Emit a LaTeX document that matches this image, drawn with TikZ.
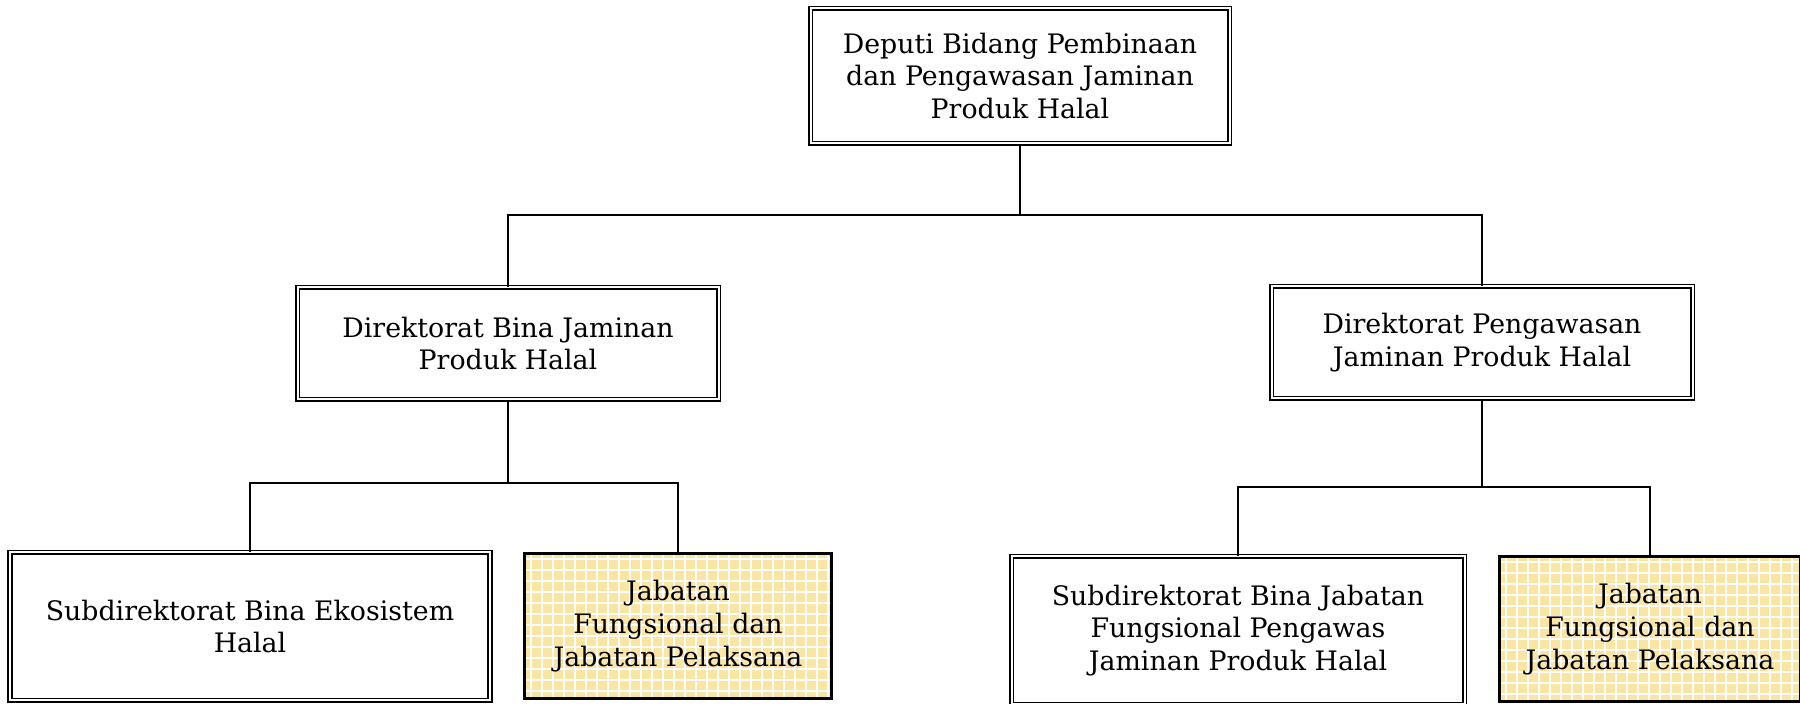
\documentclass[tikz,border=0pt]{standalone}
\usepackage{fontspec}
\setmainfont{DejaVu Serif}
\definecolor{gridfill}{RGB}{251,229,163}
\tikzset{
  unitbox/.style={draw, double, line width=0.8pt, double distance=1pt,
    align=center, inner sep=0pt, text=black,
    font=\fontsize{13.4}{16.4}\selectfont},
  jfbox/.style={draw, line width=1.5pt, align=center, inner sep=0pt,
    font=\fontsize{13.4}{16.4}\selectfont,
    path picture={
      \fill[gridfill] (path picture bounding box.south west) rectangle (path picture bounding box.north east);
      \foreach \k in {0,...,30} {
        \draw[white, line width=1pt]
          ([xshift=\k*5.5pt+3pt]path picture bounding box.south west) --
          ([xshift=\k*5.5pt+3pt]path picture bounding box.north west);
      }
      \foreach \k in {0,...,15} {
        \draw[white, line width=1pt]
          ([yshift=-\k*5.5pt-3pt]path picture bounding box.north west) --
          ([yshift=-\k*5.5pt-3pt]path picture bounding box.north east);
      }
    }},
  link/.style={draw, line width=1.3pt, line join=miter}
}
\begin{document}
\begin{tikzpicture}[x=0.5pt, y=-0.5pt]
\useasboundingbox (0,0) rectangle (1800,704);
\clip (0,0) rectangle (1800,704);

% top level
\node[unitbox, minimum width=209.5pt, minimum height=67.5pt] (dep) at (1020,76)
  {Deputi Bidang Pembinaan\\dan Pengawasan Jaminan\\Produk Halal};

% directorates
\node[unitbox, minimum width=210.5pt, minimum height=56pt] (dirA) at (508,343.5)
  {Direktorat Bina Jaminan\\Produk Halal};
\node[unitbox, minimum width=210.5pt, minimum height=56pt] (dirB) at (1482,342.5)
  {Direktorat Pengawasan\\Jaminan Produk Halal};

% sub-units
\node[unitbox, minimum width=240pt, minimum height=74pt] (subA) at (250,626.5)
  {Subdirektorat Bina Ekosistem\\Halal};
\node[jfbox, minimum width=153.5pt, minimum height=72.5pt] (jfA) at (678,626)
  {Jabatan\\Fungsional dan\\Jabatan Pelaksana};
\node[unitbox, minimum width=226.5pt, minimum height=74pt] (subB) at (1238,630.5)
  {Subdirektorat Bina Jabatan\\Fungsional Pengawas\\Jaminan Produk Halal};
\node[jfbox, minimum width=150.5pt, minimum height=72.5pt] (jfB) at (1650,629)
  {Jabatan\\Fungsional dan\\Jabatan Pelaksana};

% connectors
\coordinate (busTop) at (1020,215);
\coordinate (busA) at (508,483);
\coordinate (busB) at (1482,487);
\draw[link] (dep.south) -- (busTop);
\draw[link] (busTop) -| (dirA.north);
\draw[link] (busTop) -| (dirB.north);
\draw[link] (dirA.south) -- (busA);
\draw[link] (busA) -| (subA.north);
\draw[link] (busA) -| (jfA.north);
\draw[link] (dirB.south) -- (busB);
\draw[link] (busB) -| (subB.north);
\draw[link] (busB) -| (jfB.north);
\end{tikzpicture}
\end{document}
